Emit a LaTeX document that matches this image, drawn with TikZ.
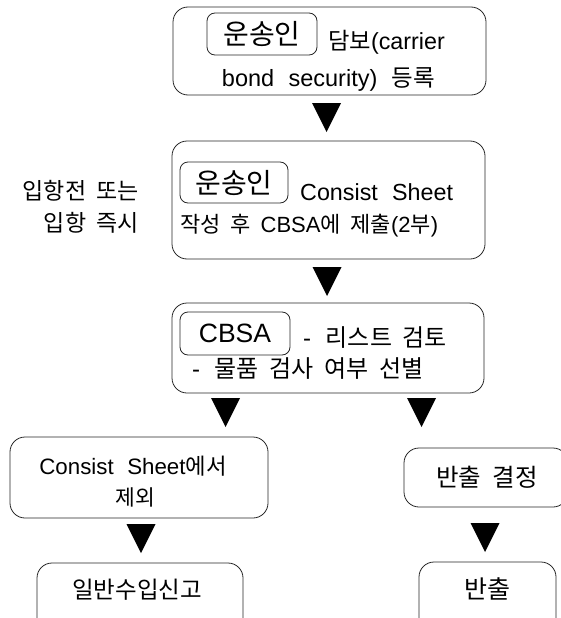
\documentclass[tikz,border=0pt]{standalone}
\usepackage{fontspec}
\setmainfont{Liberation Sans}[WordSpace=2.2]
\newfontfamily\kr{Noto Sans CJK KR}[WordSpace=2]
\tikzset{
  bigbox/.style={draw=black!85, line width=0.8pt, rounded corners=15pt, inner sep=0pt},
  labbox/.style={draw=black!85, line width=0.8pt, rounded corners=8pt, inner sep=0pt},
  txt/.style={inner sep=0pt, font=\fontsize{#1}{#1}\selectfont},
  txt/.default=22,
}
\newcommand\downtri[1]{\fill[black] (#1) ++(-14.5,0) -- ++(29,0) -- ++(-14.5,29) -- cycle;}
\begin{document}
\begin{tikzpicture}[x=1pt,y=-1pt]
\useasboundingbox (0,0) rectangle (561,618);
\clip (0,0) rectangle (561,618);
% boxes
\node[bigbox, minimum width=313pt, minimum height=88pt] (b1) at (329.5,51) {};
\node[labbox, minimum width=110pt, minimum height=42pt] (i1) at (262,34) {};
\node[bigbox, minimum width=313pt, minimum height=118pt] (b2) at (328.5,200) {};
\node[labbox, minimum width=108pt, minimum height=41pt] (i2) at (234,182.5) {};
\node[bigbox, minimum width=312pt, minimum height=90pt] (b3) at (328,348) {};
\node[labbox, minimum width=110pt, minimum height=43pt] (i3) at (235,333.5) {};
\node[bigbox, minimum width=258pt, minimum height=81pt] (l1) at (139,477.5) {};
\node[bigbox, minimum width=164pt, minimum height=59pt] (r1) at (486,477.5) {};
\node[bigbox, minimum width=206pt, minimum height=97pt] (l2) at (140,611.5) {};
\node[bigbox, minimum width=137pt, minimum height=98pt] (r2) at (487.5,611) {};
% inner labels
\node[txt=28] (i1t) at (i1) {\kr 운송인};
\node[txt=28] (i2t) at (i2) {\kr 운송인};
\node[txt=26.5] (i3t) at (i3) {CBSA};
% texts
\node[txt=23.3, anchor=base west] (b1a) at (328,49) {{\kr 담보}(carrier};
\node[txt=23.5, anchor=base] (b1b) at (328.5,86) {bond security) {\kr 등록}};
\node[txt=23.3, anchor=base west] (b2a) at (300,200) {Consist Sheet};
\node[txt=22, anchor=base west] (b2b) at (180,232) {{\kr 작성 후 }CBSA{\kr 에 제출}(2{\kr 부})};
\node[txt=23, anchor=base east] (s1) at (139,199) {\kr 입항전 또는};
\node[txt=23, anchor=base east] (s2) at (139,231) {\kr 입항 즉시};
\node[txt=24, anchor=base west] (b3a) at (303,346) {- {\kr 리스트 검토}};
\node[txt=24, anchor=base west] (b3b) at (192,377) {- {\kr 물품 검사 여부 선별}};
\node[txt=22.3, anchor=base] (l1a) at (133,474) {Consist Sheet{\kr 에서}};
\node[txt=21.5, anchor=base] (l1b) at (135,505) {\kr 제외};
\node[txt=24.5, anchor=base] (r1a) at (487,486) {\kr 반출 결정};
\node[txt=23.5, anchor=base] (l2a) at (137,598) {\kr 일반수입신고};
\node[txt=25, anchor=base] (r2a) at (487,598) {\kr 반출};
% triangles
\coordinate (t1) at (326.5,103);
\coordinate (t2) at (327,267);
\coordinate (t3l) at (225.5,398);
\coordinate (t3r) at (421.5,398);
\coordinate (t4l) at (141,524);
\coordinate (t4r) at (485,523);
\downtri{t1}
\downtri{t2}
\downtri{t3l}
\downtri{t3r}
\downtri{t4l}
\downtri{t4r}
\end{tikzpicture}
\end{document}
